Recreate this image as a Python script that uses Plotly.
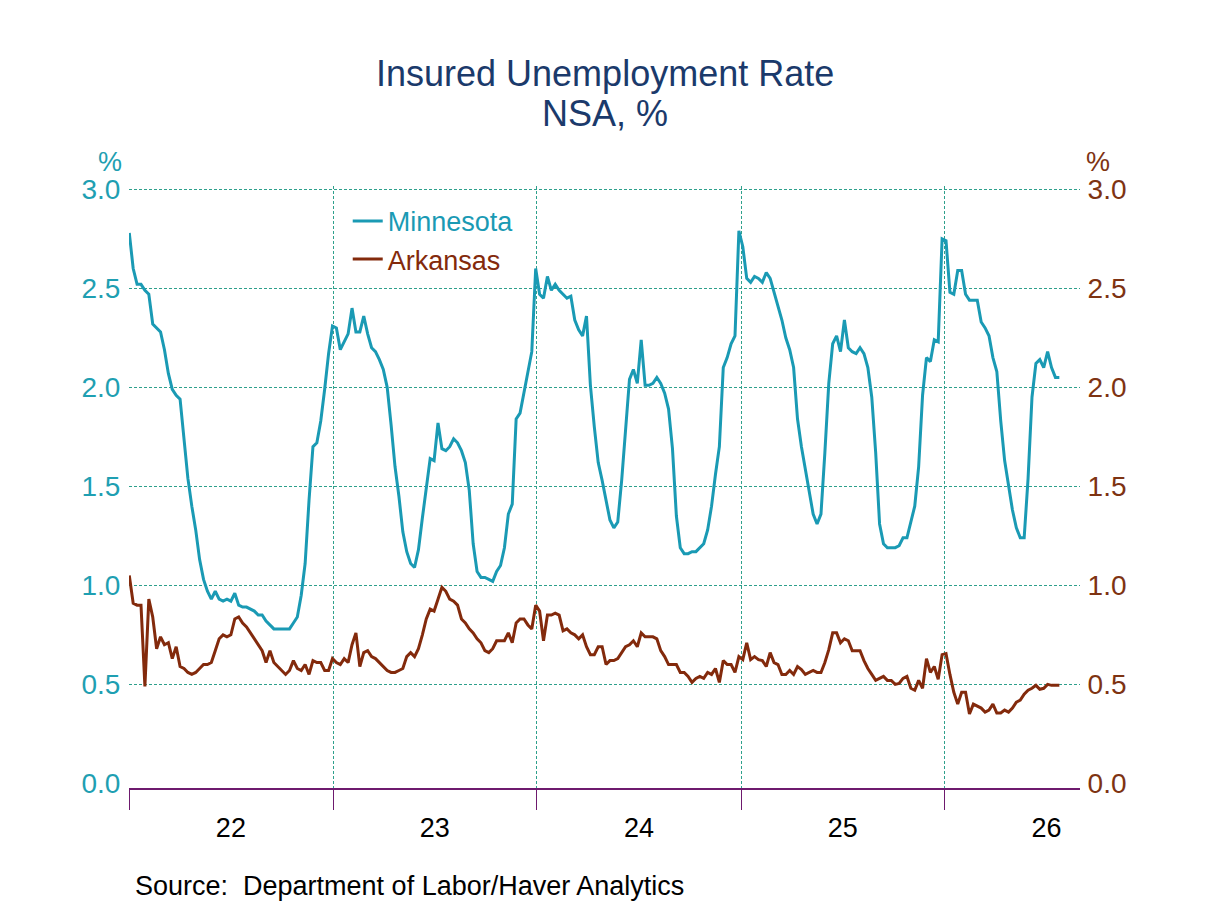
import plotly.graph_objects as go
import pandas as pd

# ---------------- data (weekly, NSA, %) ----------------
mn_2022 = [2.78, 2.60, 2.52, 2.52, 2.49, 2.47, 2.32, 2.30, 2.28, 2.19,
           2.07, 1.99, 1.96, 1.94, 1.75, 1.54, 1.40, 1.28, 1.13, 1.03,
           0.97, 0.93, 0.97, 0.93, 0.92, 0.93, 0.92, 0.96, 0.90, 0.89,
           0.89, 0.88, 0.87, 0.85, 0.85, 0.82, 0.80, 0.78, 0.78, 0.78,
           0.78, 0.78, 0.81, 0.84, 0.95, 1.11, 1.43, 1.70, 1.72, 1.83,
           1.99, 2.17, 2.31]
mn_2023 = [2.30, 2.19, 2.23, 2.27, 2.40, 2.28, 2.28, 2.36, 2.27, 2.20,
           2.18, 2.14, 2.09, 2.00, 1.81, 1.60, 1.45, 1.27, 1.17, 1.11,
           1.09, 1.18, 1.34, 1.49, 1.64, 1.63, 1.82, 1.69, 1.68, 1.70,
           1.74, 1.72, 1.68, 1.62, 1.48, 1.21, 1.07, 1.04, 1.04, 1.03,
           1.02, 1.07, 1.10, 1.19, 1.36, 1.41, 1.84, 1.87, 1.97, 2.07,
           2.18, 2.60]
mn_2024 = [2.47, 2.45, 2.56, 2.49, 2.52, 2.49, 2.47, 2.45, 2.46, 2.34,
           2.29, 2.26, 2.36, 2.01, 1.80, 1.62, 1.53, 1.43, 1.33, 1.29,
           1.32, 1.53, 1.80, 2.04, 2.09, 2.02, 2.24, 2.01, 2.01, 2.02,
           2.05, 2.02, 1.97, 1.89, 1.69, 1.35, 1.19, 1.16, 1.16, 1.17,
           1.17, 1.19, 1.21, 1.28, 1.40, 1.56, 1.70, 2.10, 2.15, 2.22,
           2.26, 2.79]
mn_2025 = [2.71, 2.55, 2.53, 2.56, 2.55, 2.53, 2.58, 2.55, 2.48, 2.40,
           2.34, 2.25, 2.19, 2.10, 1.84, 1.70, 1.58, 1.46, 1.36, 1.31,
           1.36, 1.67, 2.02, 2.22, 2.26, 2.18, 2.34, 2.20, 2.18, 2.17,
           2.20, 2.17, 2.10, 1.95, 1.67, 1.31, 1.21, 1.19, 1.19, 1.19,
           1.20, 1.24, 1.24, 1.32, 1.40, 1.60, 1.96, 2.15, 2.13, 2.24,
           2.23, 2.75]
mn_2026 = [2.74, 2.48, 2.47, 2.59, 2.59, 2.47, 2.44, 2.44, 2.44, 2.33,
           2.30, 2.26, 2.15, 2.08, 1.83, 1.63, 1.50, 1.38, 1.29, 1.24,
           1.24, 1.54, 1.95, 2.12, 2.14, 2.10, 2.18, 2.10, 2.05, 2.05]

ar_2022 = [1.05, 0.91, 0.90, 0.90, 0.49, 0.93, 0.84, 0.68, 0.74, 0.70,
           0.71, 0.63, 0.69, 0.59, 0.58, 0.56, 0.55, 0.56, 0.58, 0.60,
           0.60, 0.61, 0.67, 0.73, 0.75, 0.74, 0.75, 0.83, 0.84, 0.81,
           0.79, 0.76, 0.73, 0.70, 0.67, 0.61, 0.67, 0.61, 0.59, 0.57,
           0.55, 0.57, 0.62, 0.58, 0.57, 0.60, 0.55, 0.62, 0.61, 0.61,
           0.57, 0.57, 0.63]
ar_2023 = [0.61, 0.60, 0.63, 0.61, 0.70, 0.76, 0.59, 0.66, 0.67, 0.64,
           0.63, 0.61, 0.59, 0.57, 0.56, 0.56, 0.57, 0.58, 0.64, 0.66,
           0.64, 0.68, 0.75, 0.83, 0.88, 0.87, 0.93, 0.99, 0.97, 0.93,
           0.92, 0.90, 0.83, 0.81, 0.78, 0.76, 0.73, 0.71, 0.67, 0.66,
           0.68, 0.72, 0.72, 0.72, 0.76, 0.71, 0.81, 0.83, 0.83, 0.80,
           0.78, 0.90]
ar_2024 = [0.87, 0.72, 0.85, 0.85, 0.86, 0.85, 0.77, 0.78, 0.76, 0.75,
           0.73, 0.75, 0.69, 0.65, 0.65, 0.69, 0.69, 0.60, 0.62, 0.62,
           0.63, 0.66, 0.69, 0.70, 0.72, 0.69, 0.76, 0.74, 0.74, 0.74,
           0.73, 0.67, 0.64, 0.60, 0.60, 0.60, 0.56, 0.56, 0.54, 0.51,
           0.53, 0.54, 0.53, 0.56, 0.55, 0.58, 0.51, 0.62, 0.60, 0.60,
           0.56, 0.64]
ar_2025 = [0.625, 0.71, 0.625, 0.64, 0.625, 0.62, 0.59, 0.66, 0.61, 0.60,
           0.55, 0.55, 0.57, 0.55, 0.59, 0.575, 0.55, 0.56, 0.57, 0.56,
           0.56, 0.61, 0.675, 0.76, 0.76, 0.71, 0.73, 0.72, 0.67, 0.67,
           0.67, 0.62, 0.58, 0.55, 0.52, 0.53, 0.54, 0.52, 0.52, 0.50,
           0.505, 0.53, 0.54, 0.48, 0.47, 0.52, 0.48, 0.63, 0.56, 0.59,
           0.525, 0.65]
ar_2026 = [0.655, 0.55, 0.46, 0.40, 0.46, 0.46, 0.35, 0.40, 0.39, 0.38,
           0.36, 0.37, 0.40, 0.355, 0.355, 0.37, 0.36, 0.38, 0.41, 0.42,
           0.45, 0.47, 0.48, 0.495, 0.475, 0.48, 0.50, 0.495, 0.495, 0.495]

minnesota = mn_2022 + mn_2023 + mn_2024 + mn_2025 + mn_2026
arkansas = ar_2022 + ar_2023 + ar_2024 + ar_2025 + ar_2026
weeks = pd.date_range("2022-01-01", periods=len(minnesota), freq="7D")

year_starts = ["2022-01-01", "2023-01-01", "2024-01-01", "2025-01-01", "2026-01-01"]
year_label_pos = ["2022-07-02", "2023-07-02", "2024-07-02", "2025-07-02", "2026-07-02"]
year_labels = ["22", "23", "24", "25", "26"]
y_ticks = [0.0, 0.5, 1.0, 1.5, 2.0, 2.5, 3.0]
y_grid = [0.5, 1.0, 1.5, 2.0, 2.5, 3.0]

# ---------------- styling ----------------
MN_COLOR = "#1a9ab4"
AR_COLOR = "#832a0c"
LEFT_TICK = "#1f9fb2"
RIGHT_TICK = "#7e3312"
GRID = "#2ea08c"
AXIS = "#6e1a6e"
TITLE = "#1b3a6b"
FONT = "Liberation Sans, Arial, sans-serif"
Y_RANGE = [-0.0235, 3.0167]
T = "rgba(0,0,0,0)"

fig = go.Figure()
fig.add_trace(go.Scatter(
    x=weeks, y=minnesota, mode="lines",
    name=f"<span style='color:{MN_COLOR}'>Minnesota</span>",
    line=dict(color=MN_COLOR, width=3), yaxis="y"))
fig.add_trace(go.Scatter(
    x=weeks, y=arkansas, mode="lines",
    name=f"<span style='color:{AR_COLOR}'>Arkansas</span>",
    line=dict(color=AR_COLOR, width=3), yaxis="y2"))

fig.update_layout(
    width=1208, height=906, autosize=False,
    margin=dict(l=129, r=128, t=186, b=118),
    paper_bgcolor="white", plot_bgcolor="white",
    font=dict(family=FONT, size=27, color="black"),
    showlegend=True,
    legend=dict(x=0.230, y=0.982, xanchor="left", yanchor="top",
                bgcolor=T, borderwidth=0,
                font=dict(size=27), tracegroupgap=0),
    xaxis=dict(
        type="date", range=["2021-12-31 12:00", "2026-08-31"],
        tickmode="array", tickvals=year_label_pos, ticktext=year_labels,
        ticks="outside", ticklen=15, tickcolor=T,
        tickfont=dict(size=27, color="black"),
        showgrid=False, zeroline=False,
        showline=True, linecolor=AXIS, linewidth=1.5,
        minor=dict(tickmode="array", tickvals=year_starts, ticks="outside",
                   ticklen=20, tickcolor=AXIS, tickwidth=1.2,
                   showgrid=True, gridcolor=GRID, griddash="3px,2px", gridwidth=1),
    ),
    yaxis=dict(
        range=Y_RANGE, tickmode="array", tickvals=y_ticks, tickformat=".1f",
        tickfont=dict(size=28, color=LEFT_TICK),
        showgrid=False, zeroline=False, showline=False,
        ticks="outside", ticklen=2, tickcolor=T,
        minor=dict(tickmode="array", tickvals=y_grid, ticks="",
                   showgrid=True, gridcolor=GRID, griddash="3px,2px", gridwidth=1),
    ),
    yaxis2=dict(
        range=Y_RANGE, overlaying="y", side="right", anchor="x",
        tickmode="array", tickvals=y_ticks, tickformat=".1f",
        tickfont=dict(size=28, color=RIGHT_TICK),
        showgrid=False, zeroline=False, showline=False,
        ticks="outside", ticklen=1, tickcolor=T,
    ),
    annotations=[
        dict(text="Insured Unemployment Rate", xref="paper", yref="paper",
             x=0.5, y=(788 - 73) / 602, xanchor="center", yanchor="middle",
             showarrow=False, font=dict(size=36, color=TITLE)),
        dict(text="NSA, %", xref="paper", yref="paper",
             x=0.5, y=(788 - 113) / 602, xanchor="center", yanchor="middle",
             showarrow=False, font=dict(size=36, color=TITLE)),
        dict(text="%", xref="paper", yref="paper",
             x=(110 - 129) / 951, y=(788 - 162) / 602, xanchor="center", yanchor="middle",
             showarrow=False, font=dict(size=27, color=LEFT_TICK)),
        dict(text="%", xref="paper", yref="paper",
             x=(1098 - 129) / 951, y=(788 - 162) / 602, xanchor="center", yanchor="middle",
             showarrow=False, font=dict(size=27, color=RIGHT_TICK)),
        dict(text="Source:  Department of Labor/Haver Analytics", xref="paper", yref="paper",
             x=(133 - 129) / 951, y=(788 - 886) / 602, xanchor="left", yanchor="middle",
             showarrow=False, font=dict(size=27, color="black")),
    ],
)

fig.write_html("out.html", config={"displayModeBar": False},
               post_script="document.body.style.margin='0';document.body.style.padding='0';")
